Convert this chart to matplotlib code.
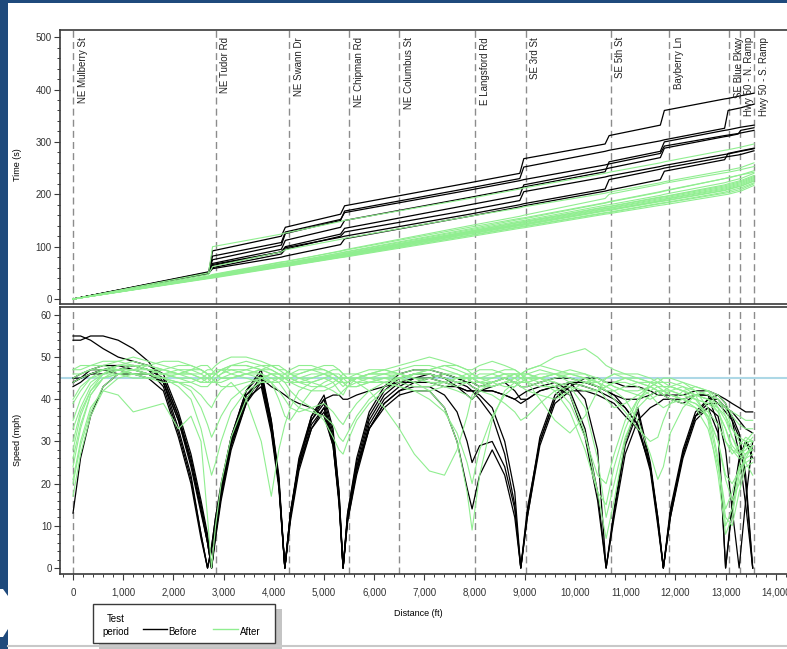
import numpy as np
import matplotlib.pyplot as plt
import matplotlib.transforms as mtransforms
from matplotlib.patches import Rectangle, Polygon
from matplotlib.lines import Line2D
from matplotlib.ticker import MultipleLocator, FuncFormatter

plt.rcParams['font.family'] = ['Liberation Sans', 'DejaVu Sans']

# cross streets along the corridor (ft)
streets = ["NE Mulberry St", "NE Tudor Rd", "NE Swann Dr", "NE Chipman Rd", "NE Columbus St",
           "E Langsford Rd", "SE 3rd St", "SE 5th St", "Bayberry Ln", "SE Blue Pkwy",
           "Hwy 50 - N. Ramp", "Hwy 50 - S. Ramp"]
street_dist = [0, 2843, 4303, 5504, 6500, 8008, 9018, 10711, 11878, 13068, 13281, 13566]
speed_limit = 45

time_dist = [0, 2700, 2780, 4150, 4230, 5330, 5410, 7900, 8900, 8980,
             10600, 10680, 11700, 11780, 12980, 13050, 13250, 13300, 13566]

before_time = [
    [0, 50, 92, 120, 137, 162, 178, 222, 240, 268, 296, 312, 332, 360, 382, 383, 387, 388, 393],
    [0, 51, 75, 103, 125, 150, 168, 212, 230, 252, 282, 284, 302, 304, 326, 360, 364, 365, 372],
    [0, 49, 68, 95, 112, 137, 150, 194, 212, 214, 243, 262, 282, 300, 322, 323, 327, 328, 332],
    [0, 52, 64, 90, 100, 124, 135, 180, 198, 218, 248, 250, 270, 288, 310, 311, 315, 322, 327],
    [0, 48, 82, 108, 128, 152, 165, 208, 226, 228, 256, 258, 278, 292, 312, 313, 316, 317, 322],
    [0, 50, 60, 86, 95, 120, 128, 170, 188, 205, 233, 235, 253, 255, 276, 277, 281, 282, 287],
    [0, 49, 58, 80, 82, 104, 115, 158, 176, 178, 206, 208, 228, 244, 266, 278, 282, 283, 288],
    [0, 50, 66, 90, 98, 118, 120, 162, 180, 182, 210, 228, 248, 250, 271, 272, 275, 276, 283],
]

after_time = [
    [0, 50, 100, 124, 126, 148, 150, 192, 210, 212, 240, 242, 260, 262, 284, 285, 289, 290, 296],
    [0, 47, 62, 90, 94, 114, 116, 158, 174, 176, 202, 204, 222, 224, 245, 246, 250, 251, 260],
    [0, 44, 46, 70, 71, 92, 94, 140, 158, 160, 192, 200, 219, 221, 241, 242, 246, 247, 253],
    [0, 43, 44, 67, 68, 88, 90, 134, 152, 153, 183, 185, 204, 206, 230, 232, 236, 237, 245],
    [0, 43, 45, 68, 69, 88, 89, 132, 149, 150, 179, 180, 198, 200, 222, 224, 229, 230, 240],
    [0, 42, 44, 66, 67, 86, 87, 130, 147, 148, 176, 177, 195, 196, 218, 220, 225, 226, 236],
    [0, 42, 43, 65, 66, 84, 86, 128, 144, 146, 173, 174, 192, 193, 214, 216, 221, 222, 232],
    [0, 41, 43, 64, 65, 83, 84, 126, 142, 143, 170, 171, 188, 190, 210, 212, 217, 218, 228],
    [0, 41, 42, 63, 64, 82, 83, 124, 140, 141, 168, 169, 186, 187, 207, 209, 214, 215, 225],
    [0, 40, 42, 62, 63, 80, 82, 122, 138, 139, 165, 166, 183, 184, 204, 206, 211, 212, 222],
    [0, 40, 41, 62, 63, 80, 81, 121, 137, 138, 164, 165, 182, 183, 202, 203, 208, 209, 220],
    [0, 39, 40, 61, 62, 79, 80, 119, 135, 136, 162, 163, 179, 180, 199, 200, 205, 206, 217],
    [0, 42, 44, 66, 67, 85, 87, 129, 146, 147, 175, 176, 194, 195, 216, 218, 223, 224, 234],
    [0, 41, 43, 65, 66, 84, 85, 127, 143, 144, 172, 173, 190, 191, 212, 214, 219, 220, 230],
    [0, 41, 42, 63, 64, 82, 83, 125, 141, 142, 169, 170, 187, 188, 208, 210, 215, 216, 226],
    [0, 44, 47, 71, 72, 91, 93, 137, 154, 155, 184, 186, 205, 207, 230, 231, 236, 237, 242],
]

speed_dist = [0, 150, 350, 600, 900, 1200, 1500, 1800, 2100, 2350, 2550, 2680, 2760,
              2840, 2950, 3150, 3450, 3750, 3950, 4100, 4220,
              4330, 4500, 4750, 5000, 5180, 5300, 5380,
              5470, 5650, 5900, 6200, 6500, 6800, 7100, 7400, 7650, 7850, 7950, 8100, 8350, 8600, 8800, 8920,
              9050, 9300, 9600, 9900, 10200, 10450, 10620,
              10780, 11000, 11250, 11500, 11650, 11760,
              11900, 12150, 12400, 12650, 12850, 13000, 13130, 13270, 13400, 13540]

before_speed = [
    [55, 55, 54, 52, 50, 49, 48, 46, 37, 27, 16, 8, 0,
     8, 17, 29, 40, 45, 34, 21, 0,
     12, 25, 35, 39, 31, 17, 0,
     11, 23, 34, 40, 43, 45, 46, 45, 44, 43, 42, 41, 38, 30, 18, 0,
     12, 30, 40, 44, 40, 28, 0,
     14, 30, 38, 25, 12, 0,
     14, 28, 37, 40, 40, 38, 36, 32, 22, 0],
    [54, 54, 55, 55, 54, 52, 49, 44, 33, 22, 8, 0, 5,
     12, 20, 31, 42, 47, 35, 22, 0,
     13, 26, 36, 40, 32, 18, 0,
     12, 24, 35, 41, 44, 45, 45, 44, 43, 42, 42, 40, 36, 27, 15, 0,
     13, 31, 41, 44, 44, 43, 42,
     41, 40, 40, 41, 42, 41,
     40, 39, 41, 41, 34, 0, 15, 26, 30, 26],
    [43, 44, 46, 47, 47, 46, 46, 45, 36, 26, 15, 7, 0,
     9, 18, 30, 41, 44, 33, 20, 0,
     12, 24, 34, 38, 30, 16, 0,
     12, 24, 33, 39, 42, 44, 45, 46, 45, 44, 43, 42, 42, 41, 40, 41,
     42, 43, 44, 42, 33, 18, 0,
     13, 29, 37, 24, 11, 0,
     13, 27, 36, 39, 39, 38, 37, 35, 33, 32],
    [44, 45, 46, 46, 47, 48, 47, 43, 32, 21, 8, 0, 5,
     12, 19, 30, 40, 43, 32, 19, 0,
     11, 23, 33, 37, 29, 15, 0,
     11, 22, 33, 39, 42, 43, 43, 41, 37, 30, 25, 29, 30, 24, 14, 0,
     12, 29, 39, 42, 42, 41, 40,
     39, 36, 33, 24, 11, 0,
     12, 26, 35, 38, 36, 28, 14, 0, 16, 30],
    [45, 45, 46, 47, 48, 48, 47, 45, 36, 25, 14, 6, 0,
     7, 16, 28, 39, 46, 35, 21, 0,
     13, 25, 36, 41, 33, 18, 0,
     13, 25, 36, 42, 45, 46, 46, 45, 43, 41, 40, 42, 43, 44, 42, 40,
     40, 42, 43, 44, 43, 42, 41,
     40, 38, 34, 23, 10, 0,
     12, 27, 36, 40, 41, 39, 35, 27, 15, 0],
    [13, 26, 36, 43, 46, 46, 46, 44, 35, 25, 14, 6, 0,
     8, 17, 29, 39, 44, 33, 20, 0,
     12, 24, 33, 38, 30, 16, 0,
     12, 23, 33, 38, 41, 42, 42, 38, 30, 19, 14, 22, 28, 22, 12, 0,
     14, 30, 40, 43, 45, 45, 44,
     44, 43, 43, 42, 41, 41,
     41, 41, 42, 42, 41, 40, 39, 38, 37, 37],
    [44, 45, 47, 48, 48, 47, 46, 44, 35, 24, 13, 6, 0,
     9, 18, 30, 41, 45, 43, 42, 41,
     40, 39, 38, 36, 29, 16, 0,
     13, 26, 37, 43, 46, 47, 47, 46, 45, 44, 44, 43, 44, 45, 44, 43,
     43, 44, 45, 45, 44, 43, 42,
     41, 38, 34, 24, 12, 0,
     13, 27, 36, 38, 32, 0, 14, 25, 30, 28],
    [45, 46, 47, 47, 46, 46, 45, 42, 31, 20, 7, 0, 4,
     11, 19, 31, 42, 46, 34, 20, 0,
     13, 25, 35, 40, 41, 41, 40,
     40, 41, 42, 43, 44, 44, 44, 43, 43, 42, 42, 42, 42, 41, 40, 39,
     40, 42, 43, 41, 31, 16, 0,
     12, 27, 35, 38, 39, 40,
     40, 40, 41, 41, 39, 37, 35, 31, 20, 0],
]

after_speed = [
    [21, 30, 38, 42, 41, 37, 38, 39, 33, 36, 30, 12, 0,
     10, 20, 31, 40, 45, 46, 45, 45,
     44, 45, 46, 46, 45, 44, 45,
     44, 45, 46, 46, 45, 44, 45, 44, 43, 44, 45, 44, 43, 44, 45, 44,
     44, 45, 46, 44, 43, 42, 43,
     44, 45, 44, 43, 42, 41,
     42, 43, 42, 41, 40, 38, 33, 30, 29, 28],
    [24, 33, 41, 45, 46, 47, 46, 45, 44, 43, 41, 39, 38,
     40, 42, 44, 40, 30, 17, 28, 34,
     38, 42, 44, 45, 44, 42, 41,
     43, 45, 46, 47, 46, 45, 44, 43, 42, 41, 40, 42, 44, 45, 44, 43,
     42, 41, 40, 42, 44, 45, 44,
     43, 42, 41, 40, 41, 42,
     43, 44, 43, 42, 38, 30, 27, 29, 31, 30],
    [33, 38, 43, 46, 48, 49, 48, 47, 46, 45, 44, 44, 45,
     46, 47, 48, 48, 47, 46, 45, 44,
     42, 40, 38, 35, 31, 28, 27,
     30, 35, 39, 42, 44, 46, 47, 48, 47, 46, 45, 44, 43, 44, 45, 46,
     46, 45, 44, 41, 32, 18, 7,
     16, 30, 39, 44, 45, 44,
     43, 42, 40, 36, 25, 14, 18, 24, 25, 22],
    [47, 47, 48, 49, 49, 48, 47, 47, 46, 46, 45, 45, 45,
     46, 47, 47, 46, 45, 44, 44, 45,
     46, 47, 47, 46, 45, 44, 44,
     43, 43, 44, 45, 45, 44, 42, 38, 30, 18, 9, 22, 35, 42, 44, 45,
     46, 47, 46, 45, 44, 43, 42,
     42, 43, 44, 44, 43, 42,
     42, 41, 40, 39, 38, 36, 33, 31, 30, 30],
    [28, 36, 42, 46, 48, 48, 47, 46, 45, 44, 43, 43, 44,
     45, 46, 48, 49, 48, 47, 46, 45,
     44, 43, 42, 42, 43, 44, 45,
     45, 44, 42, 38, 33, 27, 23, 22, 28, 36, 41, 43, 44, 45, 46, 46,
     47, 48, 47, 46, 45, 44, 43,
     44, 45, 45, 44, 43, 42,
     41, 40, 38, 33, 24, 12, 10, 18, 24, 25],
    [45, 46, 47, 48, 49, 50, 49, 48, 47, 46, 46, 47, 47,
     48, 49, 50, 50, 49, 48, 47, 47,
     46, 46, 47, 48, 48, 47, 46,
     45, 45, 46, 47, 48, 49, 50, 49, 48, 47, 47, 48, 49, 48, 47, 46,
     44, 40, 35, 32, 36, 42, 45,
     46, 45, 44, 43, 42, 42,
     41, 40, 39, 37, 34, 30, 28, 27, 29, 31],
    [39, 42, 45, 47, 47, 46, 46, 47, 48, 48, 47, 46, 45,
     44, 44, 45, 46, 47, 47, 46, 45,
     45, 46, 47, 47, 46, 45, 44,
     44, 45, 46, 46, 47, 48, 48, 47, 46, 45, 46, 47, 47, 46, 45, 46,
     47, 48, 50, 51, 52, 50, 48,
     47, 46, 46, 45, 44, 43,
     43, 42, 41, 40, 38, 35, 31, 28, 27, 28],
    [20, 29, 37, 43, 46, 47, 47, 46, 45, 45, 44, 45, 46,
     47, 47, 46, 45, 44, 44, 45, 46,
     46, 45, 44, 43, 42, 41, 42,
     43, 44, 45, 45, 44, 43, 43, 44, 45, 46, 46, 45, 44, 43, 43, 44,
     45, 44, 42, 37, 28, 18, 15,
     24, 33, 40, 43, 42, 41,
     40, 39, 38, 36, 30, 21, 16, 20, 26, 29],
    [44, 45, 46, 47, 47, 46, 45, 45, 46, 47, 47, 46, 45,
     44, 43, 43, 44, 45, 44, 42, 40,
     38, 37, 38, 39, 37, 35, 34,
     36, 39, 42, 44, 45, 46, 47, 48, 48, 47, 46, 45, 45, 46, 46, 45,
     44, 43, 43, 44, 45, 44, 43,
     42, 40, 35, 27, 21, 24,
     32, 38, 41, 42, 41, 39, 36, 34, 33, 33],
    [35, 40, 44, 46, 47, 47, 46, 45, 44, 42, 38, 34, 31,
     33, 36, 40, 43, 45, 46, 46, 45,
     45, 44, 43, 43, 44, 45, 46,
     46, 46, 45, 44, 43, 42, 42, 43, 44, 45, 45, 44, 44, 45, 46, 46,
     45, 45, 46, 46, 45, 43, 40,
     38, 39, 41, 43, 44, 45,
     45, 44, 42, 38, 26, 10, 14, 24, 30, 32],
    [30, 37, 42, 45, 46, 46, 45, 44, 44, 44, 45, 46, 46,
     46, 45, 45, 46, 46, 45, 44, 42,
     40, 38, 37, 36, 34, 31, 30,
     32, 36, 40, 43, 45, 46, 46, 45, 44, 44, 45, 45, 46, 47, 47, 46,
     46, 45, 43, 39, 31, 22, 20,
     27, 35, 40, 42, 43, 43,
     42, 41, 40, 39, 37, 33, 29, 27, 28, 30],
    [47, 48, 48, 48, 47, 47, 48, 49, 49, 48, 47, 46, 46,
     46, 47, 48, 48, 47, 46, 46, 46,
     47, 48, 48, 47, 46, 46, 45,
     45, 46, 47, 47, 46, 45, 45, 46, 46, 45, 44, 44, 45, 46, 46, 45,
     45, 46, 46, 45, 44, 44, 45,
     46, 46, 45, 44, 44, 43,
     43, 42, 41, 40, 39, 38, 37, 36, 35, 35],
    [26, 34, 41, 45, 47, 48, 48, 47, 46, 46, 45, 44, 44,
     45, 46, 47, 47, 46, 44, 40, 36,
     35, 38, 42, 44, 45, 44, 43,
     44, 45, 45, 46, 46, 45, 44, 44, 45, 45, 44, 43, 43, 44, 44, 43,
     43, 44, 45, 46, 46, 45, 44,
     43, 42, 42, 43, 44, 44,
     44, 43, 41, 35, 22, 8, 12, 22, 27, 29],
    [40, 43, 45, 46, 46, 45, 45, 46, 47, 47, 46, 45, 44,
     44, 45, 46, 47, 48, 48, 47, 46,
     45, 44, 44, 45, 46, 45, 44,
     43, 43, 44, 44, 43, 42, 40, 37, 32, 25, 20, 28, 36, 41, 43, 44,
     45, 45, 44, 43, 42, 42, 43,
     44, 44, 43, 41, 39, 38,
     39, 40, 41, 40, 37, 33, 28, 26, 27, 29],
    [46, 46, 47, 47, 48, 48, 47, 46, 46, 47, 48, 48, 47,
     46, 45, 45, 46, 47, 48, 48, 47,
     46, 45, 45, 46, 47, 47, 46,
     45, 44, 44, 45, 46, 47, 47, 46, 45, 45, 45, 46, 46, 45, 44, 44,
     44, 45, 46, 47, 46, 44, 42,
     40, 37, 33, 30, 31, 35,
     39, 42, 43, 42, 40, 36, 31, 27, 25, 26],
    [17, 27, 36, 42, 45, 46, 46, 45, 43, 40, 33, 26, 22,
     25, 30, 37, 42, 44, 45, 45, 44,
     44, 44, 45, 46, 46, 45, 45,
     45, 45, 44, 44, 45, 46, 46, 45, 44, 44, 43, 42, 41, 39, 37, 35,
     36, 39, 42, 43, 38, 26, 12,
     20, 31, 38, 41, 42, 42,
     41, 40, 39, 36, 30, 22, 20, 23, 26, 27],
]

for name, runs, dist in [("before_time", before_time, time_dist), ("after_time", after_time, time_dist),
                         ("before_speed", before_speed, speed_dist), ("after_speed", after_speed, speed_dist)]:
    bad = [i for i, r in enumerate(runs) if len(r) != len(dist)]
    if bad:
        raise ValueError(f"{name}: wrong length in runs {bad} {[len(runs[i]) for i in bad]} vs {len(dist)}")

W, H = 787, 649
BEFORE_C = "black"
AFTER_C = "#90ee90"
GRID_C = "#8c8c8c"
SPINE_C = "#3a3a3a"


def fx(px):
    return px / W


def fy(py):
    return 1 - py / H


fig = plt.figure(figsize=(W / 100, H / 100), dpi=100)
ax_t = fig.add_axes([fx(60), fy(304.3), fx(801) - fx(60), fy(30.3) - fy(304.3)])
ax_s = fig.add_axes([fx(60), fy(573.7), fx(801) - fx(60), fy(307.3) - fy(573.7)])

for ax in (ax_t, ax_s):
    ax.set_xlim(-259, 14502)
    for d in street_dist:
        ax.axvline(d, color=GRID_C, lw=1.0, ls=(0, (5, 3)), zorder=1)
    ax.spines["right"].set_visible(False)
    for s in ("left", "top", "bottom"):
        ax.spines[s].set_color(SPINE_C)
        ax.spines[s].set_linewidth(1.2)
    ax.tick_params(axis="both", which="major", direction="out", length=4, width=0.8,
                   color=SPINE_C, labelsize=7, labelcolor="#333333", pad=2)
    ax.tick_params(axis="both", which="minor", direction="out", length=2.5, width=0.7, color=SPINE_C)

# time panel
for run in before_time:
    ax_t.plot(time_dist, run, color=BEFORE_C, lw=0.9, zorder=2)
for run in after_time:
    ax_t.plot(time_dist, run, color=AFTER_C, lw=0.8, zorder=3)
ax_t.set_ylim(-10, 513)
ax_t.yaxis.set_major_locator(MultipleLocator(100))
ax_t.yaxis.set_minor_locator(MultipleLocator(20))
ax_t.tick_params(axis="x", which="both", bottom=False, labelbottom=False)

trans = mtransforms.blended_transform_factory(ax_t.transData, ax_t.transAxes)
for name, d in zip(streets, street_dist):
    ax_t.text(d + 90, 0.975, name, rotation=90, ha="left", va="top", fontsize=7,
              color="#222222", transform=trans, zorder=5)

# speed panel
ax_s.axhline(speed_limit, color="#add8e6", lw=1.5, zorder=1.5)
for run in before_speed:
    ax_s.plot(speed_dist, run, color=BEFORE_C, lw=0.9, zorder=2)
for run in after_speed:
    ax_s.plot(speed_dist, run, color=AFTER_C, lw=0.8, zorder=3)
ax_s.set_ylim(-1.35, 61.8)
ax_s.yaxis.set_major_locator(MultipleLocator(10))
ax_s.yaxis.set_minor_locator(MultipleLocator(2))
ax_s.xaxis.set_major_locator(MultipleLocator(1000))
ax_s.xaxis.set_minor_locator(MultipleLocator(200))
ax_s.xaxis.set_major_formatter(FuncFormatter(lambda v, _: f"{int(v):,}"))
ax_s.tick_params(axis="x", which="major", pad=6)

fig.text(fx(17), fy(165), "Time (s)", rotation=90, ha="center", va="center", fontsize=6.5)
fig.text(fx(17), fy(440), "Speed (mph)", rotation=90, ha="center", va="center", fontsize=6.5)
fig.text(fx(418), fy(614), "Distance (ft)", ha="center", va="center", fontsize=6.5)

# legend box with drop shadow
fig.add_artist(Rectangle((fx(99), fy(649)), fx(282) - fx(99), fy(609) - fy(649),
                         transform=fig.transFigure, facecolor="#c4c4c4", edgecolor="none"))
fig.add_artist(Rectangle((fx(93.3), fy(643.3)), fx(275) - fx(93.3), fy(604) - fy(643.3),
                         transform=fig.transFigure, facecolor="white", edgecolor=SPINE_C, lw=1))
fig.text(fx(116), fy(619), "Test", ha="center", va="center", fontsize=7)
fig.text(fx(116), fy(632), "period", ha="center", va="center", fontsize=7)
fig.add_artist(Line2D([fx(143), fx(167)], [fy(629), fy(629)], color=BEFORE_C, lw=1))
fig.text(fx(168), fy(632), "Before", ha="left", va="center", fontsize=7)
fig.add_artist(Line2D([fx(213), fx(238)], [fy(629), fy(629)], color=AFTER_C, lw=1))
fig.text(fx(240), fy(632), "After", ha="left", va="center", fontsize=7)

# page frame
fig.add_artist(Rectangle((0, 0), fx(8), 1, transform=fig.transFigure, facecolor="#1f4a7c", edgecolor="none"))
fig.add_artist(Rectangle((0, fy(3)), 1, fy(0) - fy(3), transform=fig.transFigure,
                         facecolor="#1f4a7c", edgecolor="none"))
fig.add_artist(Polygon([(fx(0), fy(589)), (fx(3), fy(589)), (fx(8), fy(596)), (fx(8), fy(629)),
                        (fx(3), fy(637)), (fx(0), fy(637))], closed=True, transform=fig.transFigure,
                       facecolor="white", edgecolor="none"))
fig.add_artist(Line2D([fx(8), 1], [fy(645.5), fy(645.5)], color="#c8c8c8", lw=1.5))

fig.savefig("out.png", dpi=100)
